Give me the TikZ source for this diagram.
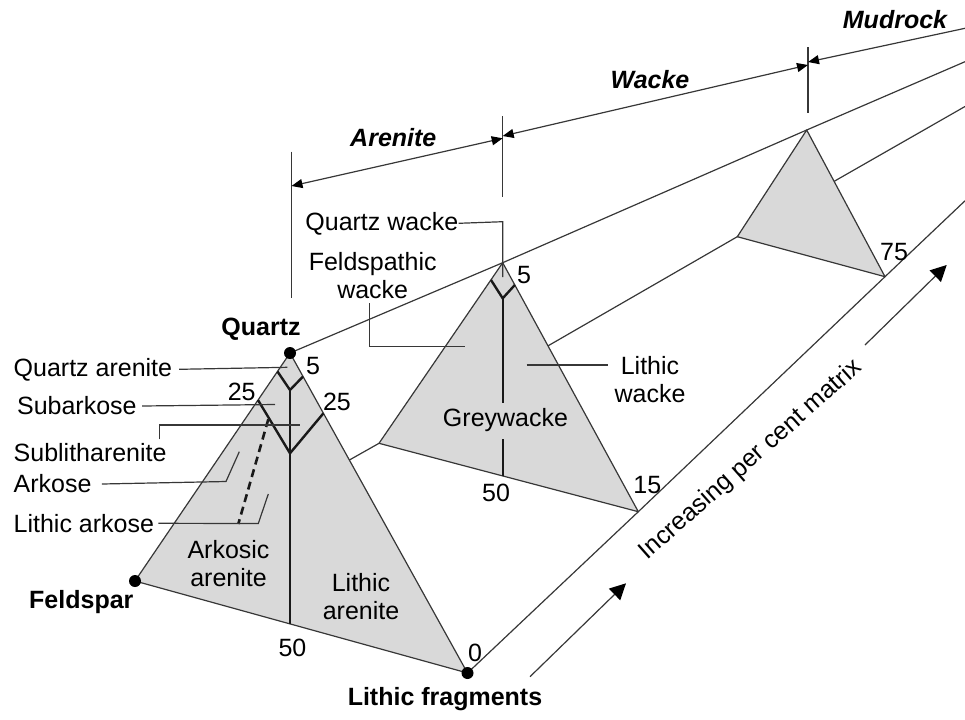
\documentclass[tikz,border=0pt]{standalone}
\usepackage{fontspec}
\setmainfont{Liberation Sans}
\usetikzlibrary{arrows.meta}
\definecolor{trifill}{RGB}{217,217,217}
\definecolor{lncol}{RGB}{55,55,55}
\definecolor{divcol}{RGB}{25,25,25}
\begin{document}
\begin{tikzpicture}[x=0.5pt,y=-0.5pt,
  guide/.style={draw=lncol,line width=0.6pt},
  leader/.style={draw=lncol,line width=0.6pt},
  triface/.style={fill=trifill,draw=lncol,line width=0.6pt,line join=round},
  divline/.style={draw=divcol,line width=1.2pt,line join=miter},
  dashline/.style={draw=divcol,line width=1.3pt,dash pattern=on 4pt off 2.5pt},
  lbl/.style={font=\fontsize{12.5}{14}\selectfont,inner sep=0pt,align=center},
  blbl/.style={font=\fontsize{12.5}{14}\selectfont\bfseries,inner sep=0pt},
  dimlbl/.style={font=\fontsize{12.5}{14}\selectfont\bfseries\itshape,inner sep=0pt},
  vdot/.style={circle,fill=black,inner sep=0pt,minimum size=6pt},
  dimarrow/.style={draw=lncol,line width=0.6pt,{Triangle[length=5.5pt,width=4.5pt,color=black]}-{Triangle[length=5.5pt,width=4.5pt,color=black]}},
  onearrow/.style={draw=lncol,line width=0.6pt,-{Triangle[length=5.5pt,width=4.5pt,color=black]}},
  matarrow/.style={draw=lncol,line width=0.6pt,-{Triangle[length=8pt,width=8pt,color=black]}}
]
\useasboundingbox (0,0) rectangle (965,719);

% vertices
\coordinate (Q1) at (290,353);
\coordinate (F1) at (135,581);
\coordinate (L1) at (467.5,673);
\coordinate (Q2) at (502.7,262.7);
\coordinate (F2) at (379,443.3);
\coordinate (L2) at (638.3,511.7);
\coordinate (Q3) at (806.7,130);
\coordinate (F3) at (737.3,236.7);
\coordinate (L3) at (885,276.7);
\coordinate (E1) at (965,61.7);
\coordinate (E2) at (965,106.5);
\coordinate (E3) at (965,200.8);

% long connecting lines (drawn first, hidden behind the faces)
\draw[guide] (Q1) -- (Q2) -- (Q3) -- (E1);
\draw[guide] (F1) -- (F2) -- (F3) -- (E2);
\draw[guide] (L1) -- (L2) -- (L3) -- (E3);

% triangular faces
\draw[triface] (Q1) -- (F1) -- (L1) -- cycle;
\draw[triface] (Q2) -- (F2) -- (L2) -- cycle;
\draw[triface] (Q3) -- (F3) -- (L3) -- cycle;

% arenite triangle divisions
\coordinate (a5l) at (277.5,371.5);
\coordinate (a5b) at (290,390);
\coordinate (a5r) at (303,376.5);
\coordinate (a25l) at (258,400);
\coordinate (a25b) at (290,453.3);
\coordinate (a25r) at (323.4,413.3);
\coordinate (a50) at (290,624);
\draw[divline] (a5l) -- (a5b) -- (a5r);
\draw[divline] (a25l) -- (a25b) -- (a25r);
\draw[divline] (a5b) -- (a50);
\coordinate (dsh1) at (268.3,419.3);
\coordinate (dsh2) at (238.3,524);
\draw[dashline] (dsh1) -- (dsh2);

% wacke triangle divisions
\coordinate (w5l) at (491,280);
\coordinate (w5b) at (502.7,298.3);
\coordinate (w5r) at (514.8,285);
\coordinate (wv1) at (502.7,403.3);
\coordinate (wv2) at (502.7,439.3);
\coordinate (w50) at (502.7,476);
\draw[divline] (w5l) -- (w5b) -- (w5r);
\draw[divline] (w5b) -- (wv1);
\draw[divline] (wv2) -- (w50);

% vertex dots
\node[vdot] (dQ) at (Q1) {};
\node[vdot] (dF) at (F1) {};
\node[vdot] (dL) at (L1) {};

% vertex labels
\node[blbl] (tQ) at (261,329) {Quartz};
\node[blbl] (tF) at (81.3,601.7) {Feldspar};
\node[blbl] (tL) at (445,699.3) {Lithic fragments};

% numbers
\node[lbl] (n5a) at (313,366) {5};
\node[lbl] (n25a) at (241.7,392.3) {25};
\node[lbl] (n25b) at (337,401.7) {25};
\node[lbl] (n50a) at (292.5,648.3) {50};
\node[lbl] (n0) at (475,653.3) {0};
\node[lbl] (n5b) at (524,275) {5};
\node[lbl] (n50b) at (496,493.3) {50};
\node[lbl] (n15) at (647.3,485) {15};
\node[lbl] (n75) at (894,251.7) {75};

% field names inside
\node[lbl] (ark) at (228.5,564) {Arkosic\\arenite};
\node[lbl] (lar) at (361,596.7) {Lithic\\arenite};
\node[lbl] (grey) at (505.5,420) {Greywacke};

% left labels with leaders
\node[lbl,anchor=west] (qa) at (13.3,369.3) {Quartz arenite};
\node[lbl,anchor=west] (sa) at (16.7,406) {Subarkose};
\node[lbl,anchor=west] (sl) at (13.3,452.7) {Sublitharenite};
\node[lbl,anchor=west] (ak) at (13.3,484) {Arkose};
\node[lbl,anchor=west] (la) at (13.3,523.3) {Lithic arkose};

\coordinate (qaE) at (287.3,367.3);
\coordinate (saE) at (275,404.5);
\coordinate (slA) at (159.3,439.3);
\coordinate (slB) at (159.3,425);
\coordinate (slE) at (300,425);
\coordinate (akB) at (226,481.5);
\coordinate (akE) at (239.3,451.7);
\coordinate (laB) at (258.3,523.5);
\coordinate (laE) at (268.3,494);
\draw[leader] ([xshift=3.3pt]qa.east) -- (qaE);
\draw[leader] ([xshift=2.5pt]sa.east) -- (saE);
\draw[leader] (slA) -- (slB) -- (slE);
\draw[leader] ([xshift=5pt]ak.east) -- (akB) -- (akE);
\draw[leader] ([xshift=2pt]la.east) -- (laB) -- (laE);

% wacke labels
\node[lbl,anchor=west] (qw) at (305,223.3) {Quartz wacke};
\node[lbl] (fw) at (372.7,275.8) {Feldspathic\\wacke};
\node[lbl] (lw) at (650,380) {Lithic\\wacke};
\coordinate (qwB) at (502.7,221.7);
\coordinate (qwE) at (502.7,277);
\coordinate (fwA) at (369.3,303.3);
\coordinate (fwB) at (369.3,346.7);
\coordinate (fwE) at (465,346.7);
\coordinate (lwA) at (526.7,365);
\coordinate (lwE) at (608.3,365);
\draw[leader] (qw.east) -- (qwB) -- (qwE);
\draw[leader] (fwA) -- (fwB) -- (fwE);
\draw[leader] (lwA) -- (lwE);

% dimension ticks and arrows
\coordinate (t1a) at (291.5,151.7);
\coordinate (t1b) at (291.5,298.3);
\coordinate (t2a) at (502.7,116);
\coordinate (t2b) at (502.7,197.3);
\coordinate (t3a) at (808,47);
\coordinate (t3b) at (808,113.3);
\draw[guide] (t1a) -- (t1b);
\draw[guide] (t2a) -- (t2b);
\draw[guide] (t3a) -- (t3b);
\coordinate (ar1) at (291.5,186);
\coordinate (ar2) at (502.7,138.3);
\coordinate (wa1) at (502.7,136);
\coordinate (wa2) at (808,65);
\coordinate (mu1) at (965,28.3);
\coordinate (mu2) at (808,62);
\draw[dimarrow] (ar1) -- (ar2);
\draw[dimarrow] (wa1) -- (wa2);
\draw[onearrow] (mu1) -- (mu2);
\node[dimlbl] (tAr) at (393.3,137.3) {Arenite};
\node[dimlbl] (tWa) at (650,80) {Wacke};
\node[dimlbl] (tMu) at (895,20) {Mudrock};

% matrix direction
\node[lbl,rotate=41.5] (mat) at (751,460) {Increasing per cent matrix};
\coordinate (m1a) at (530,676.7);
\coordinate (m1b) at (626,583.3);
\coordinate (m2a) at (865,345);
\coordinate (m2b) at (946.7,265);
\draw[matarrow] (m1a) -- (m1b);
\draw[matarrow] (m2a) -- (m2b);
\end{tikzpicture}
\end{document}
